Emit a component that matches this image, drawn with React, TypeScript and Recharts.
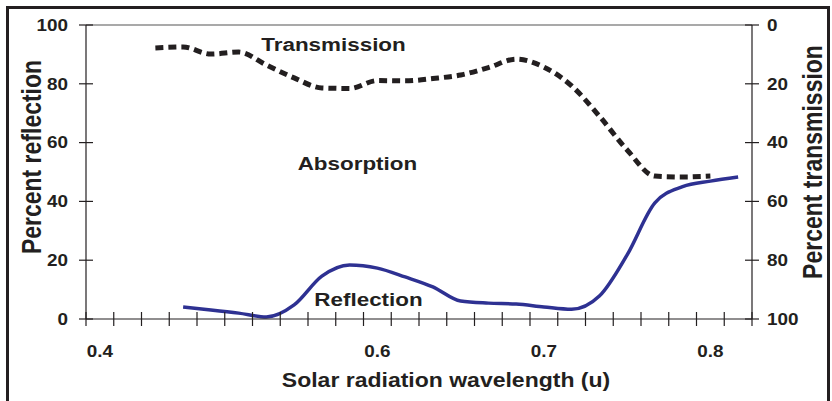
import { Label, Line, LineChart, ReferenceDot, ReferenceLine, XAxis, YAxis } from 'recharts';

const INK = '#231f20';
const BLUE = '#2e3192';
const ARIAL = '"Liberation Sans", Arial, sans-serif';
// the original picture is stretched sideways, so the type is too
const STRETCH = 1.18;

// one value per category slot (24 slots), null where the curve is not drawn
const transmission = [
  null, null, 7.8, 7.5, 9.9, 9.2, 13.6, 18.0, 21.4, 21.6, 18.9, 19.0,
  18.2, 17.0, 14.5, 11.6, 14.3, 20.7, 31.0, 42.5, 51.4, 51.7, 51.4, null,
];
const reflection = [
  null, null, null, 4.1, 3.1, 2.0, 0.7, 4.8, 14.6, 18.4, 17.3, 14.3,
  10.9, 6.1, 5.4, 5.1, 4.1, 3.3, 7.8, 21.8, 39.5, 45.0, 46.9, 48.3,
];

const waveLabels = ['0.4', '0.6', '0.7', '0.8'];
const waveLabelSlots = [0, 10, 16, 22];
const percentTicks = [0, 20, 40, 60, 80, 100];

const notes = [
  { text: 'Transmission', slot: 8.92, value: 93.4 },
  { text: 'Absorption', slot: 9.78, value: 52.9 },
  { text: 'Reflection', slot: 10.18, value: 6.8 },
];

const data = transmission.map((t, i) => ({ x: i + 0.5, transmission: t, reflection: reflection[i] }));

const slotTicks = Array.from({ length: 25 }, (_, i) => i);
const xTicks = [...slotTicks, ...waveLabelSlots.map((s) => s + 0.5)].sort((a, b) => a - b);

function SText({ x, y, size, anchor = 'middle', vertical = false, dy, children }: any) {
  const transform = vertical
    ? `translate(${x} ${y}) rotate(-90) scale(1 ${STRETCH})`
    : `translate(${x} ${y}) scale(${STRETCH} 1)`;
  return (
    <text
      x={0}
      y={0}
      dy={dy}
      transform={transform}
      textAnchor={anchor}
      fontFamily={ARIAL}
      fontWeight={700}
      fontSize={size}
      fill={INK}
    >
      {children}
    </text>
  );
}

function BottomTick(props: any) {
  const { x, y, payload } = props;
  const v = payload.value;
  if (Number.isInteger(v)) {
    return <line x1={x} x2={x} y1={y - 7} y2={y + 7} stroke={INK} strokeWidth={1.2} />;
  }
  const label = waveLabels[waveLabelSlots.indexOf(v - 0.5)];
  return (
    <SText x={x} y={y + 38} size={16}>
      {label}
    </SText>
  );
}

function LeftTick(props: any) {
  const { x, y, payload } = props;
  return (
    <g>
      <line x1={x - 7} x2={x + 7} y1={y} y2={y} stroke={INK} strokeWidth={1.2} />
      <SText x={x - 18} y={y} dy="0.36em" anchor="end" size={16}>
        {payload.value}
      </SText>
    </g>
  );
}

function RightTick(props: any) {
  const { x, y, payload } = props;
  return (
    <g>
      <line x1={x - 7} x2={x + 7} y1={y} y2={y} stroke={INK} strokeWidth={1.2} />
      <SText x={x + 15} y={y} dy="0.36em" anchor="start" size={16}>
        {payload.value}
      </SText>
    </g>
  );
}

export default function App() {
  return (
    <div
      style={{
        position: 'absolute',
        left: 0,
        top: 0,
        width: 832,
        height: 401,
        overflow: 'hidden',
        background: '#fff',
      }}
    >
      <LineChart width={832} height={401} data={data} margin={{ top: 25, right: 0, bottom: 0, left: 0 }}>
        <XAxis
          dataKey="x"
          type="number"
          domain={[0, 24]}
          ticks={xTicks}
          interval={0}
          height={82}
          tickSize={0}
          tickMargin={0}
          tickLine={false}
          tick={BottomTick}
          axisLine={{ stroke: INK, strokeWidth: 1.2 }}
        >
          <Label
            content={({ viewBox }: any) => (
              <SText x={viewBox.x + viewBox.width / 2 + 27} y={viewBox.y + 68} size={19.5}>
                Solar radiation wavelength (u)
              </SText>
            )}
          />
        </XAxis>
        <YAxis
          yAxisId="refl"
          domain={[0, 100]}
          ticks={percentTicks}
          interval={0}
          width={86}
          tickSize={0}
          tickMargin={0}
          tickLine={false}
          tick={LeftTick}
          axisLine={{ stroke: INK, strokeWidth: 1.2 }}
        >
          <Label
            content={({ viewBox }: any) => (
              <SText vertical x={viewBox.x + 41} y={viewBox.y + viewBox.height / 2 - 15} size={23}>
                Percent reflection
              </SText>
            )}
          />
        </YAxis>
        <YAxis
          yAxisId="trans"
          orientation="right"
          reversed
          domain={[0, 100]}
          ticks={percentTicks}
          interval={0}
          width={80}
          tickSize={0}
          tickMargin={0}
          tickLine={false}
          tick={RightTick}
          axisLine={{ stroke: INK, strokeWidth: 1.2 }}
        >
          <Label
            content={({ viewBox }: any) => (
              <SText vertical x={viewBox.x + 70} y={viewBox.y + viewBox.height / 2 - 10} size={23}>
                Percent transmission
              </SText>
            )}
          />
        </YAxis>
        <ReferenceLine yAxisId="refl" y={100} stroke="#8c8c8c" strokeWidth={1.5} />
        <Line
          yAxisId="trans"
          type="monotone"
          dataKey="transmission"
          stroke={INK}
          strokeWidth={5}
          strokeDasharray="8 5"
          dot={false}
          isAnimationActive={false}
        />
        <Line
          yAxisId="refl"
          type="monotone"
          dataKey="reflection"
          stroke={BLUE}
          strokeWidth={3.5}
          dot={false}
          isAnimationActive={false}
        />
        {notes.map((n) => (
          <ReferenceDot
            key={n.text}
            yAxisId="refl"
            x={n.slot}
            y={n.value}
            r={0}
            stroke="none"
            label={{
              content: ({ viewBox }: any) => (
                <SText x={viewBox.x + viewBox.width / 2} y={viewBox.y + viewBox.height / 2} dy="0.36em" size={19}>
                  {n.text}
                </SText>
              ),
            }}
          />
        ))}
      </LineChart>
      <div
        style={{
          position: 'absolute',
          left: 6,
          top: 6,
          width: 824,
          height: 430,
          boxSizing: 'border-box',
          border: `3.5px solid ${INK}`,
          pointerEvents: 'none',
        }}
      />
    </div>
  );
}
